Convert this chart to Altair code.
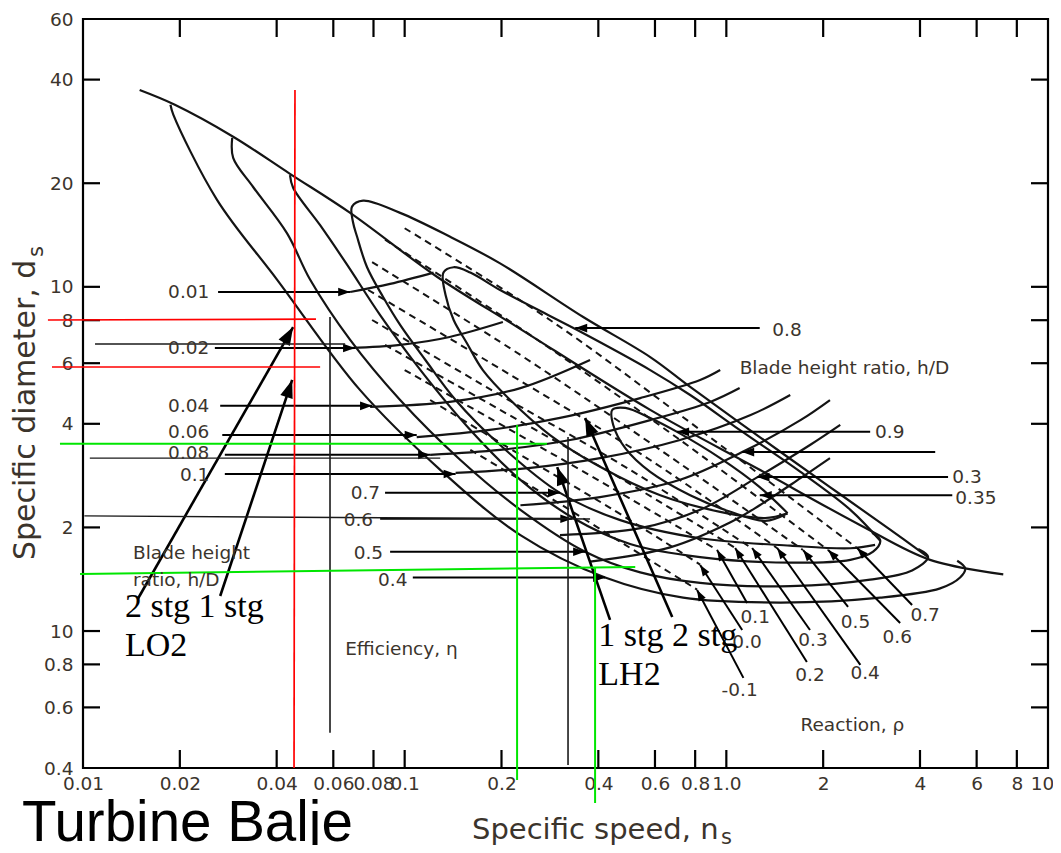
import math
import altair as alt
import pandas as pd

# ---------------- plot geometry / scales ----------------
W, H = 965, 749
NS_MIN, NS_MAX = 0.01, 10.0
DS_MIN, DS_MAX = 0.4, 60.0

# ---------------- axis ticks ----------------
X_TICKS = [0.01, 0.02, 0.04, 0.06, 0.08, 0.1, 0.2, 0.4, 0.6, 0.8, 1, 2, 4, 6, 8, 10]
Y_TICKS = [0.4, 0.6, 0.8, 1, 2, 4, 6, 8, 10, 20, 40, 60]
X_INNER_TICKS = [0.02, 0.04, 0.06, 0.08, 0.1, 0.2, 0.4, 0.6, 0.8, 1, 2, 4, 6, 8]
Y_INNER_TICKS = [0.6, 0.8, 1, 2, 4, 6, 8, 10, 20, 40]

# ---------------- solid curves (ns, ds) ----------------
ENV_NS = [0.0150, 0.0193, 0.0293, 0.0440, 0.0677, 0.126, 0.224, 0.580, 1.27, 2.61, 4.30, 7.26]
ENV_DS = [37.3, 33.8, 27.3, 21.3, 16.4, 10.7, 7.64, 4.39, 2.94, 2.03, 1.61, 1.46]

ETA04_NS = [0.0187, 0.0191, 0.0261, 0.0401, 0.0727, 0.129, 0.229, 0.420, 0.734, 1.47, 3.01, 4.62, 5.33, 5.53, 5.22]
ETA04_DS = [33.8, 31.6, 17.9, 10.5, 5.01, 2.94, 1.90, 1.43, 1.25, 1.21, 1.25, 1.33, 1.43, 1.52, 1.60]

ETA05_NS = [0.0291, 0.0293, 0.0338, 0.0431, 0.0508, 0.0677, 0.0968, 0.149, 0.229, 0.364, 0.540, 0.829, 1.58, 2.80, 3.78, 4.24, 3.95]
ETA05_DS = [27.1, 23.7, 19.5, 14.3, 10.5, 7.01, 4.69, 3.14, 2.25, 1.70, 1.48, 1.38, 1.35, 1.41, 1.50, 1.64, 1.73]

ETA06_NS = [0.0440, 0.0450, 0.0546, 0.0662, 0.0839, 0.112, 0.160, 0.229, 0.334, 0.502, 0.829, 1.58, 2.43, 2.86, 3.01, 2.84]
ETA06_DS = [21.1, 19.4, 15.1, 11.6, 8.28, 5.73, 3.84, 2.75, 2.13, 1.79, 1.64, 1.58, 1.61, 1.70, 1.83, 1.93]

ETA07_NS = [4.24, 3.23, 2.10, 1.27, 0.772, 0.580, 0.359, 0.198, 0.138, 0.0968, 0.0743, 0.0686, 0.0691,
            0.0711, 0.0764, 0.0857, 0.0968, 0.116, 0.144, 0.198, 0.304, 0.468, 0.829, 1.58, 2.43, 2.90]
ETA07_DS = [1.64, 1.97, 2.62, 3.66, 5.12, 6.25, 8.17, 11.7, 14.0, 16.4, 17.8, 17.1, 15.4,
            14.0, 11.4, 9.34, 7.75, 6.13, 4.69, 3.47, 2.52, 2.10, 1.86, 1.77, 1.74, 1.78]

ETA08_NS = [3.01, 2.43, 1.70, 1.10, 0.772, 0.580, 0.344, 0.283, 0.198, 0.160, 0.142, 0.132,
            0.134, 0.142, 0.156, 0.175, 0.213, 0.283, 0.405, 0.623, 0.957, 1.32, 1.55]
ETA08_DS = [1.83, 2.25, 2.90, 3.84, 4.85, 5.73, 7.49, 8.23, 9.79, 11.0, 11.4, 11.0,
            9.47, 8.01, 6.87, 5.73, 4.69, 3.71, 3.00, 2.48, 2.22, 2.13, 2.20]

ETA09_NS = [1.55, 1.27, 0.957, 0.703, 0.580, 0.485, 0.442, 0.445, 0.485, 0.580, 0.772, 1.03, 1.32, 1.55]
ETA09_DS = [2.20, 2.62, 3.18, 3.79, 4.16, 4.45, 4.39, 3.97, 3.40, 2.90, 2.48, 2.22, 2.09, 2.20]

HD001_NS = [0.0677, 0.0901, 0.123]
HD001_DS = [9.66, 10.2, 11.0]
HD002_NS = [0.0677, 0.0968, 0.138, 0.202]
HD002_DS = [6.64, 6.78, 7.15, 7.90]
HD004_NS = [0.0781, 0.138, 0.229, 0.377]
HD004_DS = [4.48, 4.63, 5.08, 6.13]
HD006_NS = [0.109, 0.184, 0.304, 0.540, 0.829, 0.957]
HD006_DS = [3.66, 3.84, 4.16, 4.75, 5.36, 5.73]
HD008_NS = [0.120, 0.198, 0.327, 0.580, 0.891, 1.10]
HD008_DS = [3.25, 3.36, 3.59, 4.10, 4.63, 5.08]
HD01_NS = [0.144, 0.246, 0.405, 0.718, 1.19, 1.58]
HD01_DS = [2.88, 2.98, 3.18, 3.59, 4.24, 4.85]
HD02_NS = [0.229, 0.405, 0.718, 1.12, 1.70, 2.10]
HD02_DS = [2.32, 2.45, 2.75, 3.31, 4.10, 4.69]
HD03_NS = [0.304, 0.540, 0.829, 1.25, 1.82, 2.26]
HD03_DS = [1.90, 1.99, 2.25, 2.80, 3.47, 3.97]
HD035_NS = [0.377, 0.669, 1.03, 1.27, 1.70, 2.10]
HD035_DS = [1.59, 1.75, 2.07, 2.32, 2.78, 3.18]

# ---------------- dashed reaction lines ----------------
R07_NS = [0.100, 0.283, 0.829, 2.55]
R07_DS = [14.8, 8.01, 3.84, 1.74]
R06_NS = [0.0869, 0.246, 0.718, 2.07]
R06_DS = [13.7, 7.24, 3.59, 1.72]
R05_NS = [0.0792, 0.229, 0.623, 1.73]
R05_DS = [11.8, 6.34, 3.36, 1.72]
R04_NS = [0.0770, 0.213, 0.580, 1.44]
R04_DS = [9.79, 5.55, 3.14, 1.74]
R03_NS = [0.0792, 0.198, 0.502, 1.20]
R03_DS = [8.01, 4.85, 2.94, 1.74]
R02_NS = [0.0869, 0.198, 0.468, 1.07]
R02_DS = [6.78, 4.39, 2.78, 1.74]
R01_NS = [0.100, 0.213, 0.451, 0.936]
R01_DS = [5.73, 3.84, 2.57, 1.72]
R00_NS = [0.120, 0.229, 0.435, 0.829]
R00_DS = [4.69, 3.25, 2.28, 1.56]
RM01_NS = [0.160, 0.283, 0.485, 0.811]
RM01_DS = [3.36, 2.44, 1.78, 1.32]

# ---------------- arrows (tail -> tip) ----------------
ARROW_TAIL_NS = [0.0263, 0.0257, 0.0267, 0.0271, 0.0276, 0.0276,          # h/D left
                 0.0869, 0.0839, 0.0901, 0.106,                          # efficiency left
                 1.27, 2.80, 4.46, 4.89, 5.04,                           # right side
                 1.13, 1.12, 1.16, 1.78, 1.82, 2.61, 2.39, 3.47, 3.78,   # reaction
                 0.0148, 0.0267, 0.435, 0.679]                           # LO2 / LH2
ARROW_TAIL_DS = [9.66, 6.64, 4.51, 3.71, 3.25, 2.86,
                 2.52, 2.12, 1.70, 1.43,
                 7.59, 3.79, 3.31, 2.80, 2.48,
                 0.731, 1.007, 1.206, 0.813, 1.007, 0.797, 1.175, 1.055, 1.190,
                 1.239, 1.264, 1.077, 1.098]
ARROW_TIP_NS = [0.0677, 0.0701, 0.0792, 0.109, 0.120, 0.144,
                0.304, 0.332, 0.364, 0.420,
                0.339, 0.703, 1.12, 1.25, 1.27,
                0.811, 0.829, 0.936, 1.065, 1.203, 1.439, 1.733, 2.073, 2.551,
                0.0450, 0.0447, 0.298, 0.364]
ARROW_TIP_DS = [9.66, 6.64, 4.51, 3.71, 3.25, 2.86,
                2.52, 2.12, 1.70, 1.43,
                7.59, 3.79, 3.31, 2.80, 2.48,
                1.316, 1.555, 1.719, 1.743, 1.743, 1.743, 1.719, 1.719, 1.743,
                7.642, 5.364, 2.995, 4.158]
ARROW_KIND = ["label"] * 15 + ["reaction"] * 9 + ["big"] * 4

# ---------------- straight marker lines ----------------
LINE_X0 = [0.0109, 0.0105, 0.0101, 0.0586, 0.322, 0.0456, 0.00778, 0.00801, 0.00848, 0.00979, 0.2236, 0.3908]
LINE_X1 = [0.0653, 0.129, 0.377, 0.0586, 0.322, 0.0453, 0.0530, 0.0546, 0.277, 0.521, 0.2236, 0.3908]
LINE_Y0 = [6.82, 3.18, 2.16, 8.17, 3.66, 37.3, 8.01, 5.85, 3.50, 1.465, 3.97, 1.535]
LINE_Y1 = [6.82, 3.18, 2.115, 0.506, 0.408, 0.400, 8.06, 5.85, 3.50, 1.535, 0.369, 0.3165]
LINE_COLOR = ["#1a1a1a"] * 5 + ["#ff0000"] * 3 + ["#00e600"] * 4
LINE_WIDTH = [1.4, 1.4, 1.4, 1.6, 1.6, 1.7, 1.7, 1.7, 2.0, 2.0, 2.0, 2.0]

# ---------------- text annotations ----------------
LEFT_LABELS = ["0.01", "0.02", "0.04", "0.06", "0.08", "0.1"]
LEFT_LABEL_NS = [0.0247, 0.0247, 0.0247, 0.0247, 0.0247, 0.0247]
LEFT_LABEL_DS = [9.66, 6.64, 4.51, 3.79, 3.29, 2.84]

EFF_LABELS = ["0.7", "0.6", "0.5", "0.4"]
EFF_LABEL_NS = [0.0839, 0.0798, 0.0857, 0.102]
EFF_LABEL_DS = [2.52, 2.10, 1.69, 1.41]

RIGHT_LABELS = ["0.8", "0.9", "0.3", "0.35"]
RIGHT_LABEL_NS = [1.39, 2.90, 5.04, 5.15]
RIGHT_LABEL_DS = [7.49, 3.79, 2.80, 2.44]

REACTION_LABELS = ["-0.1", "0.0", "0.1", "0.2", "0.3", "0.4", "0.5", "0.6", "0.7"]
REACTION_LABEL_NS = [1.10, 1.16, 1.23, 1.82, 1.86, 2.70, 2.52, 3.40, 4.15]
REACTION_LABEL_DS = [0.674, 0.929, 1.10, 0.745, 0.942, 0.755, 1.06, 0.961, 1.11]

NOTE_LABELS = ["Blade height ratio, h/D", "Blade height", "ratio, h/D", "Efficiency, \u03b7", "Reaction, \u03c1"]
NOTE_LABEL_NS = [1.10, 0.0143, 0.0143, 0.0653, 1.70]
NOTE_LABEL_DS = [5.81, 1.69, 1.41, 0.887, 0.533]

SERIF_LABELS = ["2 stg 1 stg", "LO2", "1 stg 2 stg", "LH2"]
SERIF_LABEL_NS = [0.0135, 0.0135, 0.400, 0.400]
SERIF_LABEL_DS = [1.10, 0.846, 0.905, 0.697]

# ---------------- styling ----------------
INK = "#141414"
TXT = "#3b342c"
SANS = "DejaVu Sans"

xscale = alt.Scale(type="log", domain=[NS_MIN, NS_MAX], nice=False)
yscale = alt.Scale(type="log", domain=[DS_MIN, DS_MAX], nice=False)

x_axis = alt.Axis(values=X_TICKS, labelExpr="datum.value == 1 ? '1.0' : '' + datum.value",
                  ticks=False, tickSize=0, domain=False, grid=False, title=None,
                  labelFont=SANS, labelFontSize=18.5, labelColor=TXT, labelPadding=6,
                  labelOverlap=False, labelFlush=False,
                  labelOffset={"condition": {"test": "datum.value == 10", "value": -6}, "value": 0})
y_axis = alt.Axis(values=Y_TICKS, labelExpr="datum.value == 1 ? '10' : '' + datum.value",
                  ticks=False, tickSize=0, domain=False, grid=False, title=None,
                  labelFont=SANS, labelFontSize=18.5, labelColor=TXT, labelPadding=10,
                  labelOverlap=False, labelFlush=False)


def X(f):
    return alt.X(f"{f}:Q", scale=xscale, axis=x_axis)


def Y(f):
    return alt.Y(f"{f}:Q", scale=yscale, axis=y_axis)


def curve_frame(curves):
    rows = []
    for name, (xs, ys) in curves.items():
        for i, (a, b) in enumerate(zip(xs, ys)):
            rows.append({"curve": name, "i": i, "ns": a, "ds": b})
    return pd.DataFrame(rows)


solid = curve_frame({
    "envelope": (ENV_NS, ENV_DS),
    "eta 0.4": (ETA04_NS, ETA04_DS), "eta 0.5": (ETA05_NS, ETA05_DS),
    "eta 0.6": (ETA06_NS, ETA06_DS), "eta 0.7": (ETA07_NS, ETA07_DS),
    "eta 0.8": (ETA08_NS, ETA08_DS), "eta 0.9": (ETA09_NS, ETA09_DS),
    "h/D 0.01": (HD001_NS, HD001_DS), "h/D 0.02": (HD002_NS, HD002_DS),
    "h/D 0.04": (HD004_NS, HD004_DS), "h/D 0.06": (HD006_NS, HD006_DS),
    "h/D 0.08": (HD008_NS, HD008_DS), "h/D 0.1": (HD01_NS, HD01_DS),
    "h/D 0.2": (HD02_NS, HD02_DS), "h/D 0.3": (HD03_NS, HD03_DS),
    "h/D 0.35": (HD035_NS, HD035_DS),
})
dashed = curve_frame({
    "rho 0.7": (R07_NS, R07_DS), "rho 0.6": (R06_NS, R06_DS), "rho 0.5": (R05_NS, R05_DS),
    "rho 0.4": (R04_NS, R04_DS), "rho 0.3": (R03_NS, R03_DS), "rho 0.2": (R02_NS, R02_DS),
    "rho 0.1": (R01_NS, R01_DS), "rho 0.0": (R00_NS, R00_DS), "rho -0.1": (RM01_NS, RM01_DS),
})

# arrowhead direction from the scale mapping
LX0 = math.log10(NS_MIN)
LXS = math.log10(NS_MAX) - LX0
LY1 = math.log10(DS_MAX)
LYS = LY1 - math.log10(DS_MIN)


def to_px(ns, ds):
    return W * (math.log10(ns) - LX0) / LXS, H * (LY1 - math.log10(ds)) / LYS


HEAD_LEN = {"label": 12, "reaction": 11, "big": 18}
arrows = pd.DataFrame({"x0": ARROW_TAIL_NS, "y0": ARROW_TAIL_DS,
                       "x1": ARROW_TIP_NS, "y1": ARROW_TIP_DS, "kind": ARROW_KIND})
angs, sizes, widths = [], [], []
for r in arrows.itertuples():
    ax, ay = to_px(r.x0, r.y0)
    bx, by = to_px(r.x1, r.y1)
    angs.append((math.degrees(math.atan2(bx - ax, -(by - ay))) + 360.0) % 360.0)
    sizes.append(4 * HEAD_LEN[r.kind] ** 2)
    widths.append(2.6 if r.kind == "big" else 2.0)
arrows["ang"] = angs
arrows["sz"] = sizes
arrows["w"] = widths

lines = pd.DataFrame({"x0": LINE_X0, "x1": LINE_X1, "y0": LINE_Y0, "y1": LINE_Y1,
                      "col": LINE_COLOR, "w": LINE_WIDTH})

xt = pd.DataFrame({"v": X_INNER_TICKS})
yt = pd.DataFrame({"v": Y_INNER_TICKS})
dummy = pd.DataFrame({"a": [0]})

layers = []
# inward ticks on all four sides
layers.append(alt.Chart(xt).mark_rule(color="black", strokeWidth=2.2).encode(
    x=X("v"), y=alt.value(H), y2=alt.value(H - 18)))
layers.append(alt.Chart(xt).mark_rule(color="black", strokeWidth=2.2).encode(
    x=X("v"), y=alt.value(0), y2=alt.value(18)))
layers.append(alt.Chart(yt).mark_rule(color="black", strokeWidth=2.2).encode(
    y=Y("v"), x=alt.value(0), x2=alt.value(17)))
layers.append(alt.Chart(yt).mark_rule(color="black", strokeWidth=2.2).encode(
    y=Y("v"), x=alt.value(W), x2=alt.value(W - 17)))

# curves
layers.append(alt.Chart(dashed).mark_line(interpolate="catmull-rom", color=INK, strokeWidth=2.0,
                                          strokeDash=[7, 5]).encode(
    x=X("ns"), y=Y("ds"), detail="curve:N", order="i:Q"))
layers.append(alt.Chart(solid).mark_line(interpolate="catmull-rom", color=INK, strokeWidth=2.2).encode(
    x=X("ns"), y=Y("ds"), detail="curve:N", order="i:Q"))

# arrows
layers.append(alt.Chart(arrows).mark_rule(color="black").encode(
    x=X("x0"), y=Y("y0"), x2="x1:Q", y2="y1:Q",
    strokeWidth=alt.StrokeWidth("w:Q", scale=None)))
layers.append(alt.Chart(arrows).mark_point(shape="M0,0L0.36,1L-0.36,1Z", filled=True, color="black",
                                          opacity=1, strokeWidth=0).encode(
    x=X("x1"), y=Y("y1"), angle=alt.Angle("ang:Q", scale=None), size=alt.Size("sz:Q", scale=None)))

# red / green / thin black marker lines
layers.append(alt.Chart(lines).mark_rule().encode(
    x=X("x0"), y=Y("y0"), x2="x1:Q", y2="y1:Q",
    color=alt.Color("col:N", scale=None), strokeWidth=alt.StrokeWidth("w:Q", scale=None)))


def text_layer(labels, xs, ys, **kw):
    df = pd.DataFrame({"t": labels, "ns": xs, "ds": ys})
    return alt.Chart(df).mark_text(**kw).encode(x=X("ns"), y=Y("ds"), text="t:N")


layers.append(text_layer(LEFT_LABELS, LEFT_LABEL_NS, LEFT_LABEL_DS, align="right", baseline="middle",
                         font=SANS, fontSize=18.5, color=TXT))
layers.append(text_layer(EFF_LABELS, EFF_LABEL_NS, EFF_LABEL_DS, align="right", baseline="middle",
                         font=SANS, fontSize=18.5, color=TXT))
layers.append(text_layer(RIGHT_LABELS, RIGHT_LABEL_NS, RIGHT_LABEL_DS, align="left", baseline="middle",
                         font=SANS, fontSize=18.5, color=TXT))
layers.append(text_layer(REACTION_LABELS, REACTION_LABEL_NS, REACTION_LABEL_DS, align="center",
                         baseline="middle", font=SANS, fontSize=18.5, color=TXT))
layers.append(text_layer(NOTE_LABELS, NOTE_LABEL_NS, NOTE_LABEL_DS, align="left", baseline="middle",
                         font=SANS, fontSize=18.5, color=TXT))
layers.append(text_layer(SERIF_LABELS, SERIF_LABEL_NS, SERIF_LABEL_DS, align="left",
                         baseline="alphabetic", font="Liberation Serif", fontSize=34, color="black"))

# axis titles and caption (outside the plot area)
layers.append(alt.Chart(dummy).mark_text(text="Specific speed, n", align="left", baseline="alphabetic",
                                         font=SANS, fontSize=29, color=TXT).encode(
    x=alt.value(389), y=alt.value(820)))
layers.append(alt.Chart(dummy).mark_text(text="s", align="left", baseline="alphabetic",
                                         font=SANS, fontSize=21, color=TXT).encode(
    x=alt.value(638), y=alt.value(825)))
layers.append(alt.Chart(dummy).mark_text(text="Specific diameter, d", align="left", baseline="alphabetic",
                                         angle=270, font=SANS, fontSize=30, color=TXT).encode(
    x=alt.value(-48), y=alt.value(541)))
layers.append(alt.Chart(dummy).mark_text(text="s", align="left", baseline="alphabetic",
                                         angle=270, font=SANS, fontSize=21, color=TXT).encode(
    x=alt.value(-40), y=alt.value(238)))
layers.append(alt.Chart(dummy).mark_text(text="Turbine Balje", align="left", baseline="alphabetic",
                                         font="Liberation Sans", fontSize=56.5, color="black").encode(
    x=alt.value(-61), y=alt.value(822)))

chart = alt.layer(*layers).properties(
    width=W, height=H,
    padding={"left": 75, "top": 11, "right": 5, "bottom": 77},
    autosize=alt.AutoSizeParams(type="none"),
).configure_view(stroke="black", strokeWidth=2.2)

chart.save("out.html", embed_options={"renderer": "svg", "actions": False})
